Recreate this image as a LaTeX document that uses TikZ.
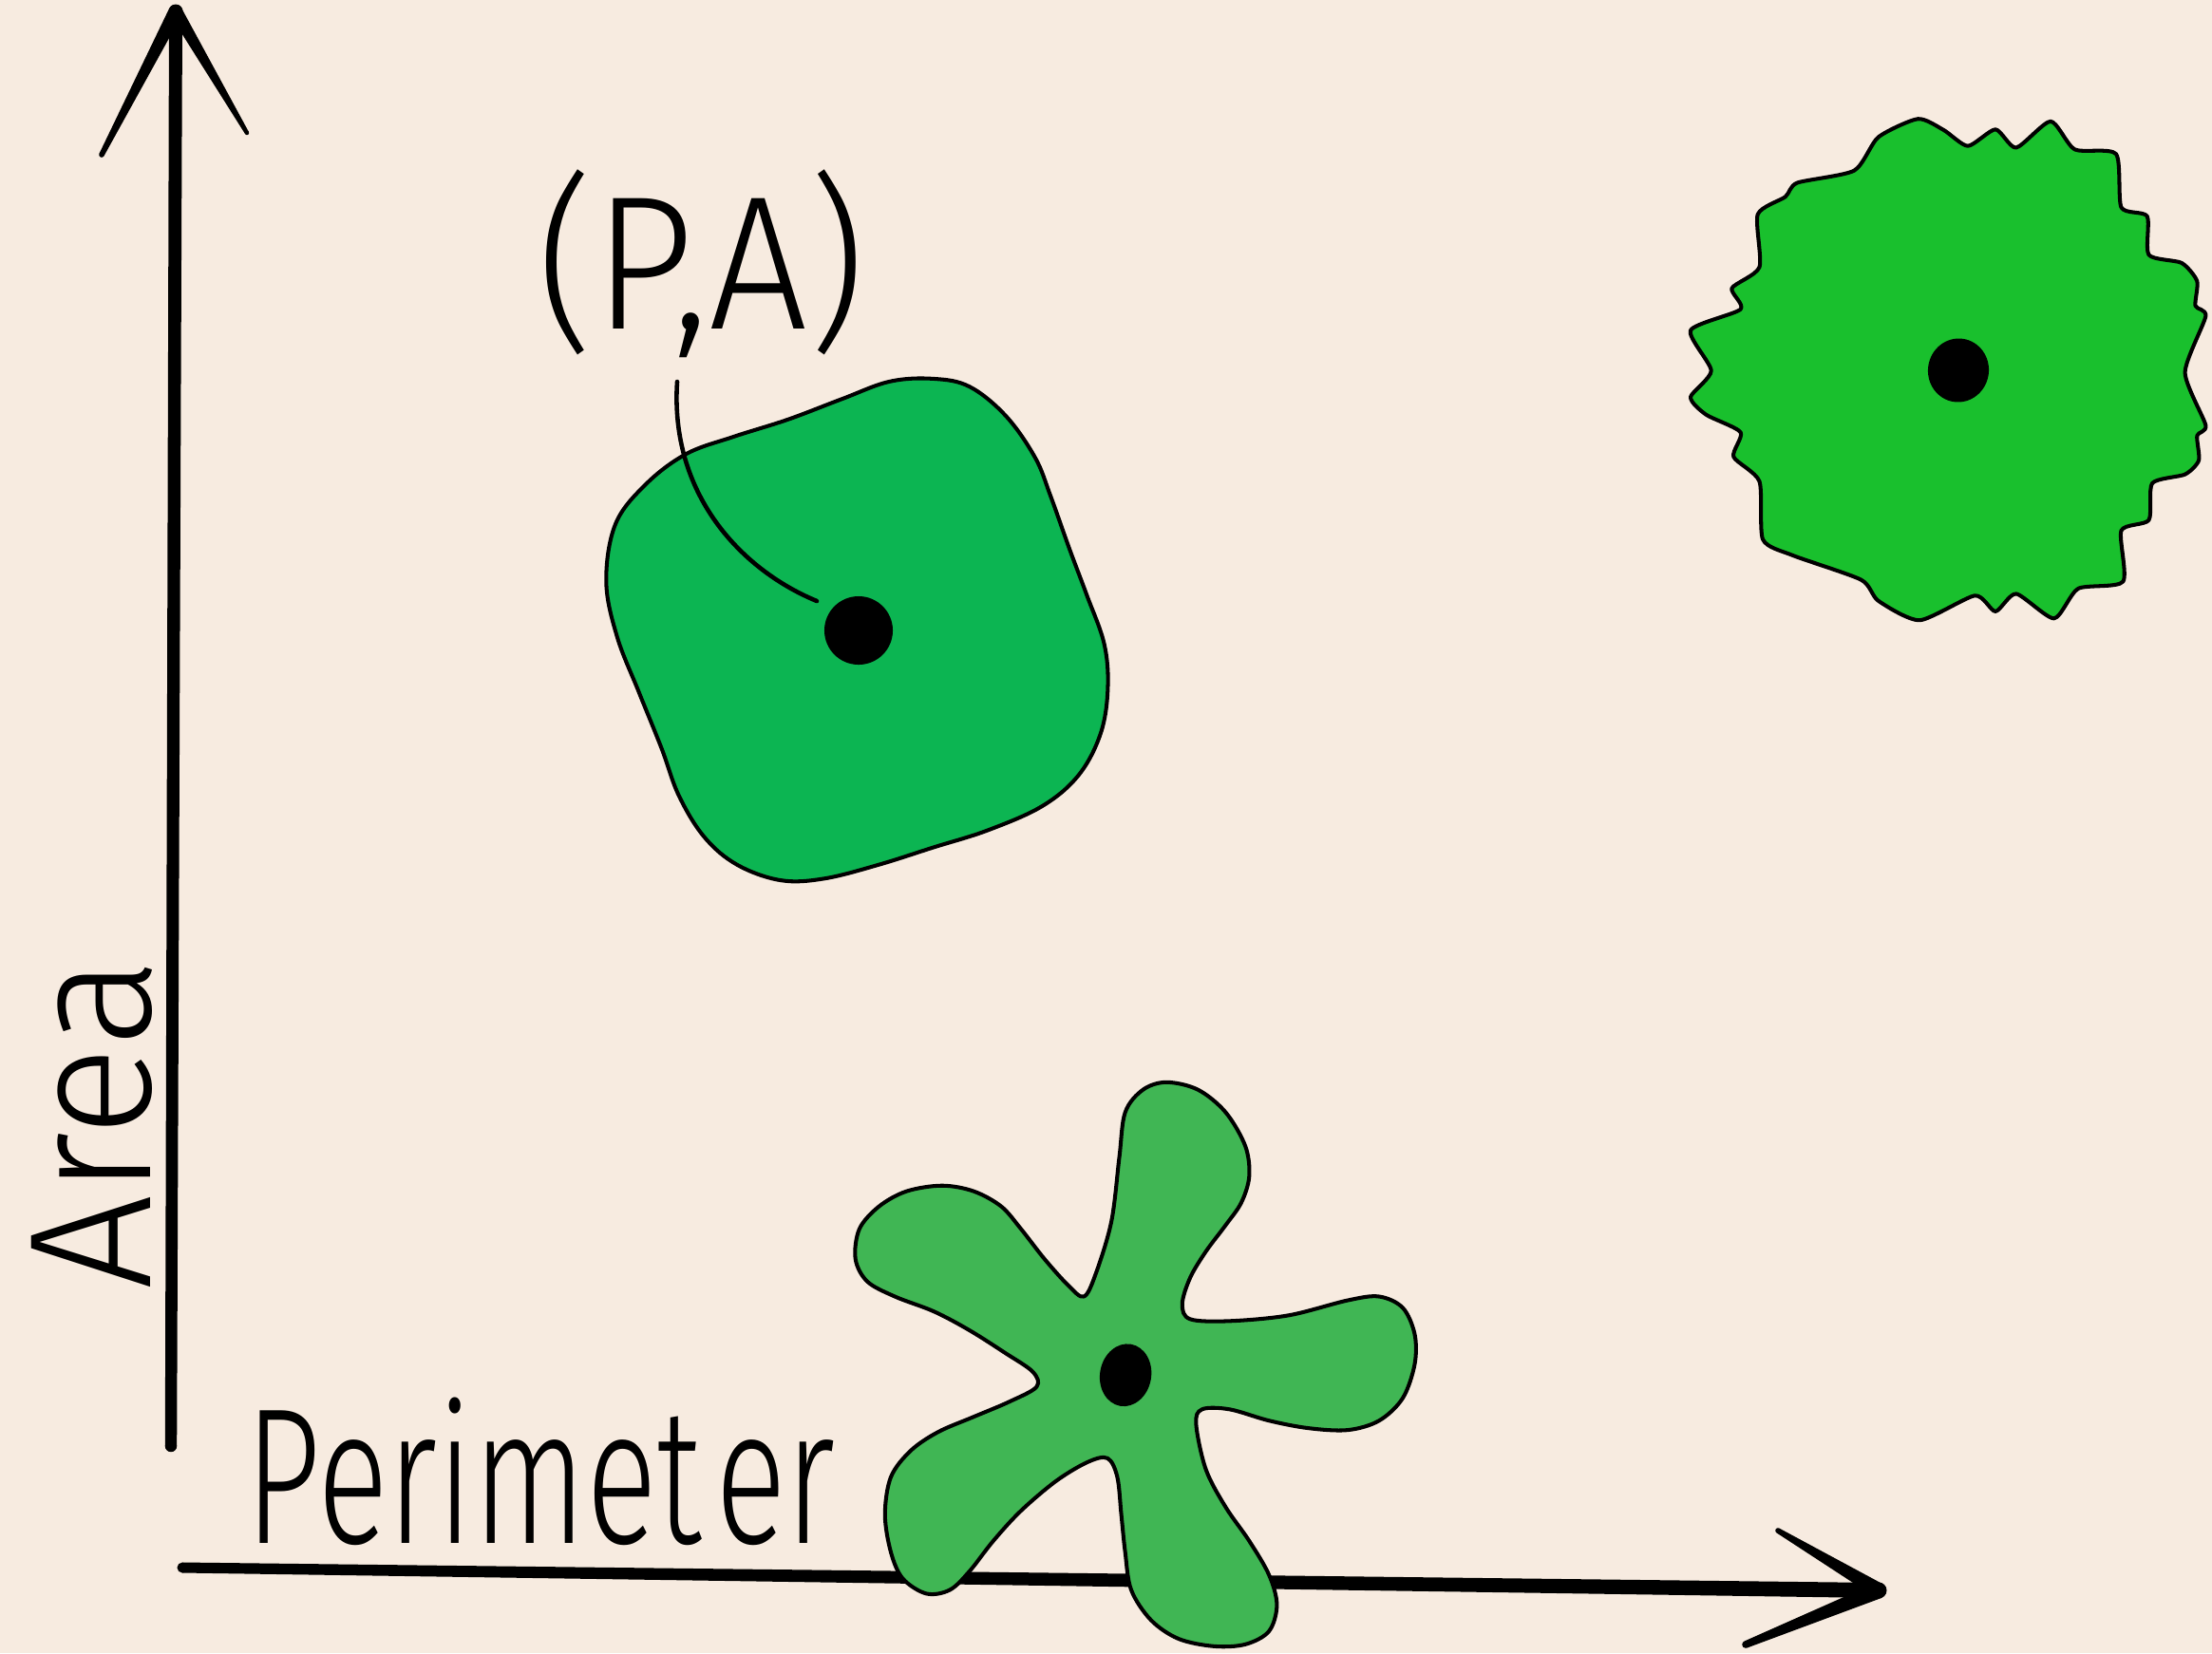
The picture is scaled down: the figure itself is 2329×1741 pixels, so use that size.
\documentclass[tikz,border=0pt]{standalone}
\usepackage{fontspec}
\usepackage{graphicx}
\usetikzlibrary{calc}
\IfFontExistsTF{Fira Sans Light}{\newfontfamily\handfont{Fira Sans Light}}{\newfontfamily\handfont{Fira Sans}}

\definecolor{paper}{RGB}{247,235,224}
\definecolor{squaregreen}{RGB}{12,181,82}
\definecolor{fuzzgreen}{RGB}{25,192,45}
\definecolor{stargreen}{RGB}{64,182,84}

% a pen stroke whose half-width changes from one end (#3) to the other (#4)
\newcommand{\taperstroke}[4]{%
  \fill ($(#1)!#3!90:(#2)$) -- ($(#2)!#4!-90:(#1)$) --
        ($(#2)!#4!90:(#1)$) -- ($(#1)!#3!-90:(#2)$) -- cycle;
  \fill (#1) circle[radius=#3];
  \fill (#2) circle[radius=#4];
}

\tikzset{
  outline/.style={draw=black, line width=1.15pt, line join=round},
  leader/.style={draw=black, line width=1.3pt, line cap=round},
  dotmark/.style={fill=black},
  handtext/.style={inner sep=0pt, text=black},
}

\begin{document}
\begin{tikzpicture}[x=0.01cm, y=-0.01cm]
  \useasboundingbox (0,0) rectangle (2329,1741);
  \fill[paper] (0,0) rectangle (2329,1741);

  % axes
  \coordinate (ybot)  at (180,1523);
  \coordinate (ytip)  at (185,12);
  \coordinate (yarmL) at (107,163);
  \coordinate (yarmR) at (260,140);
  \coordinate (xbeg)  at (192,1651);
  \coordinate (xtip)  at (1978,1675);
  \coordinate (xarmU) at (1872,1612);
  \coordinate (xarmD) at (1838,1732);

  \taperstroke{ybot}{ytip}{0.062cm}{0.07cm}
  \taperstroke{ytip}{yarmL}{0.075cm}{0.028cm}
  \taperstroke{ytip}{yarmR}{0.07cm}{0.022cm}
  \taperstroke{xbeg}{xtip}{0.055cm}{0.08cm}
  \taperstroke{xtip}{xarmU}{0.08cm}{0.028cm}
  \taperstroke{xtip}{xarmD}{0.085cm}{0.038cm}

  % five-armed star on the perimeter axis
  \filldraw[outline, fill=stargreen] plot[smooth cycle, tension=0.55] coordinates {
    (1141.2,1365.5) (1153.6,1341.8) (1170.2,1286.3) (1178.5,1219.0) (1184.7,1171.5)
    (1203.4,1147.7) (1228.3,1139.8) (1261.4,1147.7) (1290.5,1171.5) (1311.2,1207.1)
    (1315.3,1238.8) (1307.0,1266.5) (1290.5,1290.3) (1269.7,1318.0) (1253.1,1345.7)
    (1244.8,1373.4) (1253.1,1389.3)
    (1294.6,1391.3) (1356.8,1385.3) (1419.0,1369.5) (1452.1,1365.5) (1477.0,1377.4)
    (1489.5,1405.1) (1489.5,1436.8) (1477.0,1472.4) (1452.1,1496.2) (1419.0,1506.1)
    (1377.5,1504.1) (1336.1,1496.2) (1294.6,1484.3) (1265.6,1484.3)
    (1259.4,1500.2) (1269.7,1547.7) (1290.5,1587.3) (1315.3,1622.9) (1336.1,1658.6)
    (1344.4,1690.2) (1336.1,1718.0) (1311.2,1731.8) (1278.0,1733.8) (1240.7,1725.9)
    (1211.7,1706.1) (1191.0,1674.4) (1184.7,1634.8) (1180.6,1595.2) (1176.4,1555.6)
    (1166.1,1535.8)
    (1145.3,1539.8) (1112.2,1559.6) (1074.9,1591.2) (1045.8,1622.9) (1021.0,1654.6)
    (1000.2,1674.4) (975.4,1678.4) (950.5,1662.5) (938.0,1634.8) (931.8,1595.2)
    (938.0,1555.6) (958.8,1527.9) (987.8,1508.1) (1025.1,1492.2) (1062.4,1476.4)
    (1091.4,1460.6)
    (1087.3,1444.7) (1058.3,1424.9) (1021.0,1401.2) (983.7,1381.4) (942.2,1365.5)
    (913.2,1349.7) (900.7,1325.9) (904.9,1294.2) (925.6,1270.5) (954.6,1254.6)
    (991.9,1248.7) (1025.1,1254.6) (1054.1,1270.5) (1074.9,1294.2) (1099.7,1325.9)
    (1124.6,1353.6)
  };

  % rounded square
  \filldraw[outline, fill=squaregreen] plot[smooth cycle, tension=0.6] coordinates {
    (982.7,398.9) (1021.0,407.3) (1059.2,438.2) (1089.8,481.8) (1106.0,522.0)
    (1126.0,578.0) (1144.0,626.0) (1162.6,678.1) (1166.4,725.3) (1158.8,772.6)
    (1135.8,816.2) (1097.5,848.9) (1040.1,874.4) (982.7,892.5) (925.3,910.7)
    (867.9,925.3) (822.0,927.1) (776.0,910.7) (741.6,881.6) (714.8,838.0)
    (696.5,788.0) (672.7,729.0) (649.8,670.8) (638.3,612.6) (648.0,552.0)
    (680.0,510.0) (722.5,478.1) (772.2,460.0) (829.6,441.8) (887.0,420.0)
    (936.8,401.8)
  };

  % ruffled disc
  \filldraw[outline, fill=fuzzgreen] plot[smooth cycle, tension=0.4] coordinates {
    (2019.4,125.2) (2046.6,137.0) (2072.0,153.7) (2101.0,136.3) (2122.8,155.5)
    (2159.1,127.8) (2184.5,157.4) (2228.0,162.2) (2233.5,218.4) (2260.7,227.7)
    (2262.5,268.4) (2297.0,276.9) (2313.3,296.1) (2311.5,322.0) (2322.3,333.1)
    (2300.6,392.3) (2322.3,447.8) (2313.3,458.9) (2315.1,484.8) (2300.6,499.6)
    (2266.1,508.9) (2262.5,547.7) (2233.5,558.8) (2235.3,612.5) (2188.1,619.9)
    (2162.7,651.3) (2122.8,625.4) (2101.0,643.9) (2079.3,627.3) (2021.2,653.2)
    (1977.7,632.8) (1959.5,610.6) (1887.0,584.7) (1856.1,568.1) (1852.5,507.0)
    (1825.3,481.1) (1832.6,455.2) (1796.3,436.7) (1780.0,418.2) (1801.7,390.5)
    (1780.0,347.9) (1832.6,325.7) (1823.5,303.5) (1852.5,281.3) (1850.7,225.8)
    (1879.7,207.3) (1892.4,192.5) (1952.3,179.6) (1977.7,144.4)
  };

  % centre points
  \coordinate (sqc) at (904,664);
  \coordinate (fzc) at (2062,390);
  \coordinate (stc) at (1185,1448);
  \fill[dotmark] (sqc) circle[x radius=0.36cm, y radius=0.36cm];
  \fill[dotmark, rotate around={-8:(fzc)}] (fzc) circle[x radius=0.32cm, y radius=0.335cm];
  \fill[dotmark, rotate around={-10:(stc)}] (stc) circle[x radius=0.27cm, y radius=0.33cm];

  % labels
  \node[handtext, anchor=base west, font=\handfont\fontsize{57pt}{60pt}\selectfont]
    (pa) at (565,346) {\scalebox{0.92}[1]{(P,A)}};
  \node[handtext, anchor=base west, font=\handfont\fontsize{58pt}{60pt}\selectfont]
    (perim) at (258,1625) {\scalebox{0.683}[1]{Perimet\kern0.1em er}};
  \node[handtext, anchor=base west, rotate=90, font=\handfont\fontsize{52pt}{56pt}\selectfont]
    (area) at (158,1359) {\scalebox{0.97}[1]{Area}};

  % leader from the label to the centre point
  \coordinate (leadtop) at (713,402);
  \coordinate (leadend) at (860,633);
  \draw[leader] (leadtop) .. controls (705,520) and (780,600) .. (leadend);
\end{tikzpicture}
\end{document}
